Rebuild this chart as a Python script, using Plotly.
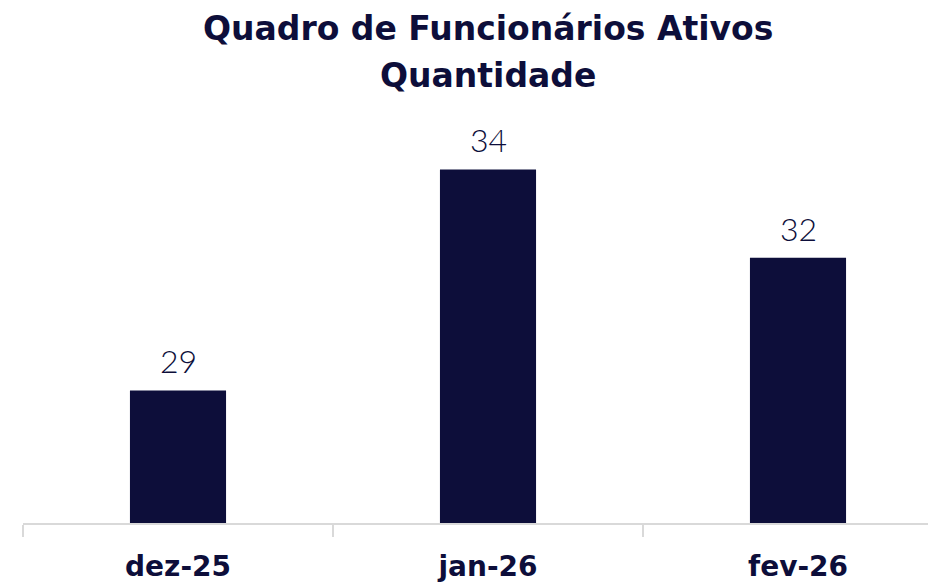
import plotly.graph_objects as go

categories = ["dez-25", "jan-26", "fev-26"]
values = [29, 34, 32]
title_lines = ["Quadro de Funcionários Ativos", "Quantidade"]

navy = "#0d0e3a"

# page body has an 8px margin: figure is offset by 8px
W, H = 928, 580
L, R, T, B = 15, 0, 73, 65
plot_h = H - T - B


def paper_y(page_y):
    fy = page_y - 8
    return 1 + (T - fy) / plot_h


fig = go.Figure(
    go.Bar(
        x=categories,
        y=values,
        marker=dict(color=navy, line=dict(width=0)),
        width=0.31,
        cliponaxis=False,
    )
)

for c, v in zip(categories, values):
    fig.add_annotation(
        x=c, y=v, xref="x", yref="y",
        text=str(v), showarrow=False,
        yanchor="bottom", yshift=8,
        font=dict(family="Lato", size=32, color=navy, weight=300),
    )

title_page_y = [29, 75]
for line, py in zip(title_lines, title_page_y):
    fig.add_annotation(
        x=(488 - 8 - L) / (W - L - R), y=paper_y(py),
        xref="paper", yref="paper",
        text=line, showarrow=False,
        xanchor="center", yanchor="middle",
        font=dict(family="DejaVu Sans", size=33, color=navy, weight="bold"),
    )

fig.update_layout(
    width=W,
    height=H,
    margin=dict(l=L, r=R, t=T, b=B),
    paper_bgcolor="white",
    plot_bgcolor="white",
    showlegend=False,
    xaxis=dict(
        range=[-0.5, -0.5 + (W - L - R) / 310],
        automargin=False,
        showline=True,
        linecolor="#d9d9d9",
        linewidth=2,
        ticks="outside",
        tickson="boundaries",
        ticklen=12,
        tickwidth=2,
        tickcolor="#d9d9d9",
        ticklabelstandoff=17,
        tickfont=dict(family="DejaVu Sans", size=28, color=navy, weight="bold"),
        showgrid=False,
    ),
    yaxis=dict(
        range=[26, 36],
        visible=False,
        showgrid=False,
        automargin=False,
    ),
)

fig.write_html("out.html")
